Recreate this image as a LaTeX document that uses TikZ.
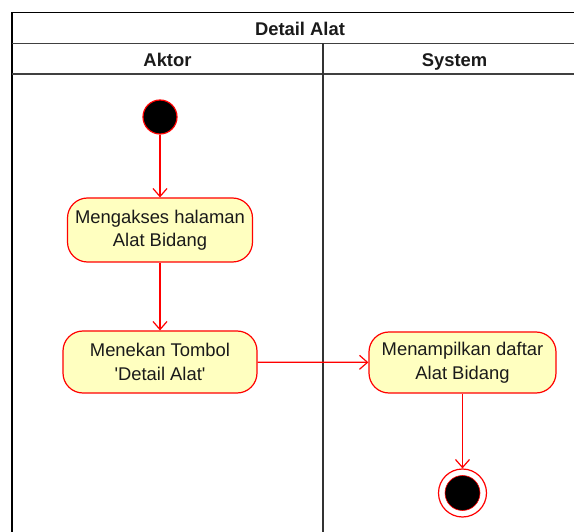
\documentclass[tikz,border=0pt]{standalone}
\usepackage{fontspec}
\setmainfont{Liberation Sans}[Ligatures=TeXOff]
\usetikzlibrary{arrows.meta}
\definecolor{flowred}{HTML}{FF0000}
\definecolor{actfill}{HTML}{FFFFC0}
\definecolor{inkgray}{HTML}{1A1A1A}
\tikzset{
  frameline/.style={line width=1.6pt, black},
  sepline/.style={line width=1.5pt, black!75},
  laneline/.style={line width=1.2pt, black!80},
  header/.style={font=\bfseries\fontsize{18.4}{22}\selectfont, text=inkgray,
    anchor=base, inner sep=0pt},
  action/.style={draw=flowred, fill=actfill, line width=1.2pt, rounded corners=20pt,
    align=center, inner sep=0pt, text=inkgray,
    font=\fontsize{18.4}{23.5}\selectfont},
  startstate/.style={circle, draw=flowred, fill=black, line width=1.2pt,
    minimum size=34pt, inner sep=0pt},
  endring/.style={circle, draw=flowred, fill=white, line width=1.2pt,
    minimum size=48pt, inner sep=0pt},
  endcore/.style={circle, draw=flowred, fill=black, line width=0.6pt,
    minimum size=35pt, inner sep=0pt},
  flow/.style={draw=flowred, line width=1.2pt,
    -{Straight Barb[length=8pt,width=14pt,line width=1.2pt]}},
}
\begin{document}
\begin{tikzpicture}[x=1pt,y=-1pt]
  \useasboundingbox (0,0) rectangle (574,532);
  \begin{scope}
    \clip (0,0) rectangle (574,532);
    % swimlane frame
    \draw[frameline] (12,534) -- (12,12.5) -- (600,12.5);
    \draw[sepline] (12,43.5) -- (600,43.5);
    \draw[sepline] (12,74) -- (600,74);
    \draw[laneline] (323,43.5) -- (323,534);
    % titles
    \node[header] (title) at (300,36) {Detail Alat};
    \node[header] (laneA) at (167.5,67) {Aktor};
    \node[header] (laneS) at (454.5,67) {System};
    % activity nodes
    \node[startstate] (init) at (160,117) {};
    \node[action, minimum width=185pt, minimum height=64pt] (a1) at (160,230)
      {Mengakses halaman\\Alat Bidang};
    \node[action, minimum width=194pt, minimum height=62pt] (a2) at (160,362)
      {Menekan Tombol\\'Detail Alat'};
    \node[action, minimum width=187pt, minimum height=61pt] (a3) at (462.5,362.5)
      {Menampilkan daftar\\Alat Bidang};
    \node[endring] (fin) at (462.5,493) {};
    \node[endcore] (fincore) at (fin.center) {};
    % control flows
    \draw[flow] (init) -- (a1);
    \draw[flow] (a1) -- (a2);
    \draw[flow] (a2) -- (a3);
    \draw[flow] (a3) -- (fin);
  \end{scope}
\end{tikzpicture}
\end{document}
